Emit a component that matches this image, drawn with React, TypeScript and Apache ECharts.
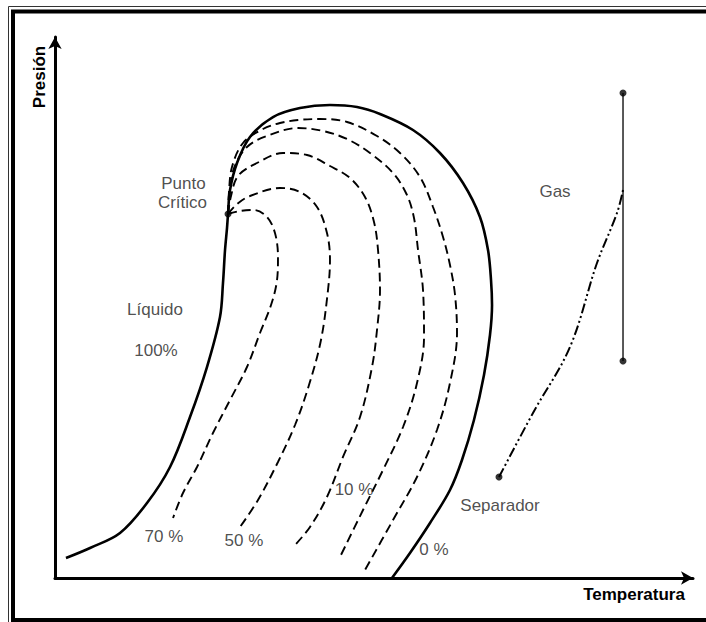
import React, { useEffect, useRef } from "react";
import * as echarts from "echarts";

// Schematic phase diagram, arbitrary units: temperature (x) 0-100, pressure (y) 0-100
const envelopeCurve: [number, number][] = [
  [1.72, 3.7], [5.49, 5.55], [10.19, 8.32], [14.42, 13.86], [18.03, 20.52], [21.16, 29.76],
  [23.82, 39.0], [25.86, 48.24], [26.33, 54.53], [26.65, 60.63], [26.96, 64.69], [27.12, 67.28],
  [27.43, 71.72], [28.53, 76.71], [30.56, 81.51], [34.17, 85.21], [38.4, 86.87], [43.1, 87.43],
  [47.34, 87.06], [50.94, 85.77], [56.11, 82.81], [60.34, 78.56], [63.95, 73.01], [66.61, 66.73],
  [67.87, 60.63], [68.34, 55.08], [68.5, 50.46], [68.18, 44.92], [67.24, 37.52], [65.67, 29.2],
  [63.79, 21.81], [61.91, 16.27], [58.78, 10.17], [55.64, 4.62], [52.82, 0],
];

const quality70: [number, number][] = [
  [27.12, 67.28], [29.0, 67.84], [31.19, 68.02], [33.23, 66.73], [34.48, 63.77], [34.95, 59.33],
  [34.8, 55.08], [33.86, 50.46], [32.13, 45.29], [30.09, 39.0], [27.43, 32.9], [24.76, 26.8],
  [22.26, 20.52], [20.06, 15.71], [18.5, 11.09],
];

const quality50: [number, number][] = [
  [27.12, 67.28], [28.53, 69.13], [30.56, 70.61], [35.27, 72.09], [38.4, 71.35], [41.07, 68.58],
  [42.63, 63.77], [43.1, 58.78], [42.79, 53.23], [41.69, 43.99], [39.81, 35.67], [37.62, 28.28],
  [34.95, 21.44], [31.82, 14.42], [29.0, 9.43],
];

const quality30: [number, number][] = [
  [27.12, 67.28], [27.59, 70.61], [28.68, 74.31], [31.66, 76.71], [35.74, 78.56], [39.5, 78.19],
  [43.1, 76.15], [46.24, 73.94], [48.59, 70.42], [50.0, 65.8], [50.63, 60.63], [50.94, 53.23],
  [50.47, 45.84], [49.69, 39.0], [47.81, 29.76], [45.14, 22.37], [42.63, 14.97], [39.97, 9.43],
  [37.62, 6.1],
];

const quality10: [number, number][] = [
  [27.12, 67.28], [27.43, 71.35], [28.06, 75.78], [30.09, 79.67], [33.23, 81.7], [38.09, 83.18],
  [42.01, 82.62], [45.77, 81.14], [49.37, 78.56], [52.98, 74.86], [55.17, 70.79], [56.27, 66.54],
  [56.9, 60.63], [57.68, 53.23], [57.84, 44.55], [56.74, 36.04], [54.55, 27.91], [51.41, 19.96],
  [48.28, 12.57], [44.67, 3.88],
];

const quality5: [number, number][] = [
  [27.12, 67.28], [27.27, 71.35], [27.74, 75.97], [29.47, 80.41], [32.6, 82.99], [35.27, 84.1],
  [38.09, 84.66], [41.54, 84.84], [45.77, 84.29], [50.47, 81.7], [54.08, 78.56], [57.21, 74.12],
  [59.25, 68.58], [60.82, 63.03], [61.91, 57.85], [62.7, 52.31], [63.01, 45.29], [61.91, 36.04],
  [59.87, 27.36], [56.74, 18.67], [52.98, 10.72], [48.59, 1.48],
];

const separatorPath: [number, number][] = [
  [69.59, 18.67], [74.92, 30.5], [80.72, 42.7], [84.95, 58.22], [88.09, 67.47], [89.03, 71.72],
];

const gasLine: [number, number][] = [[89.03, 89.65], [89.03, 40.11]];

const keyPoints: [number, number][] = [[27.12, 67.28], [69.59, 18.67], [89.03, 89.65], [89.03, 40.11]];

const labelTexts = ["Punto", "Crítico", "Líquido", "100%", "70 %", "50 %", "10 %", "0 %", "Separador", "Gas"];
const labelX = [20.14, 19.98, 15.67, 15.83, 17.08, 29.62, 46.87, 59.4, 69.75, 78.37];
const labelY = [73.01, 69.32, 49.72, 42.14, 7.58, 7.02, 16.27, 5.36, 13.31, 71.53];

const FONT = '"Liberation Sans", Arial, sans-serif';

export default function App() {
  const ref = useRef<HTMLDivElement>(null);

  useEffect(() => {
    if (!ref.current) return;
    const chart = echarts.init(ref.current, undefined, { renderer: "svg" });

    const dashed = (data: [number, number][]) => ({
      type: "line",
      data,
      smooth: 0.35,
      showSymbol: false,
      silent: true,
      lineStyle: { color: "#000", width: 1.9, type: [9, 5] },
      z: 2,
    });

    const axisCommon = {
      type: "value",
      min: 0,
      max: 100,
      axisLine: {
        show: true,
        symbol: ["none", "arrow"],
        symbolSize: [10, 12],
        lineStyle: { color: "#000", width: 3 },
      },
      axisTick: { show: false },
      axisLabel: { show: false },
      splitLine: { show: false },
    };

    chart.setOption({
      animation: false,
      backgroundColor: "#fff",
      grid: { left: 55, right: 13, top: 37, bottom: 44 },
      xAxis: { ...axisCommon },
      yAxis: { ...axisCommon },
      graphic: [
        {
          type: "polyline",
          silent: true,
          shape: { points: [[8.5, 640], [8.5, 6.5], [720, 6.5]] },
          style: { stroke: "#333", lineWidth: 1, fill: "none" },
        },
        {
          type: "rect",
          silent: true,
          shape: { x: 13, y: 11.5, width: 800, height: 608.5 },
          style: { stroke: "#000", lineWidth: 4, fill: "none" },
        },
        {
          type: "text",
          x: 39,
          y: 77,
          rotation: Math.PI / 2,
          style: {
            text: "Presión",
            font: `bold 17px ${FONT}`,
            fill: "#000",
            align: "center",
            verticalAlign: "middle",
          },
        },
        {
          type: "text",
          x: 634,
          y: 594,
          style: {
            text: "Temperatura",
            font: `bold 17px ${FONT}`,
            fill: "#000",
            align: "center",
            verticalAlign: "middle",
          },
        },
      ],
      series: [
        {
          type: "line",
          data: envelopeCurve,
          smooth: 0.35,
          showSymbol: false,
          silent: true,
          lineStyle: { color: "#000", width: 2.6 },
          z: 3,
        },
        dashed(quality70),
        dashed(quality50),
        dashed(quality30),
        dashed(quality10),
        dashed(quality5),
        {
          type: "line",
          data: separatorPath,
          smooth: 0.35,
          showSymbol: false,
          silent: true,
          lineStyle: { color: "#000", width: 2, type: [10, 3, 2, 3, 2, 3] },
        },
        {
          type: "line",
          data: gasLine,
          showSymbol: false,
          silent: true,
          lineStyle: { color: "#000", width: 1.3 },
        },
        {
          type: "scatter",
          data: keyPoints,
          symbol: "circle",
          symbolSize: 7,
          silent: true,
          itemStyle: { color: "#000" },
          z: 5,
        },
        {
          type: "scatter",
          data: labelTexts.map((t, i) => ({ name: t, value: [labelX[i], labelY[i]] })),
          symbol: "circle",
          symbolSize: 1,
          silent: true,
          itemStyle: { color: "rgba(0,0,0,0)" },
          label: {
            show: true,
            position: "inside",
            formatter: (p: any) => p.name,
            fontFamily: FONT,
            fontSize: 17,
            color: "#222",
          },
          z: 6,
        },
      ],
    });

    return () => chart.dispose();
  }, []);

  return (
    <div
      ref={ref}
      style={{ position: "absolute", left: 0, top: 0, width: 706, height: 622, background: "#fff" }}
    />
  );
}
